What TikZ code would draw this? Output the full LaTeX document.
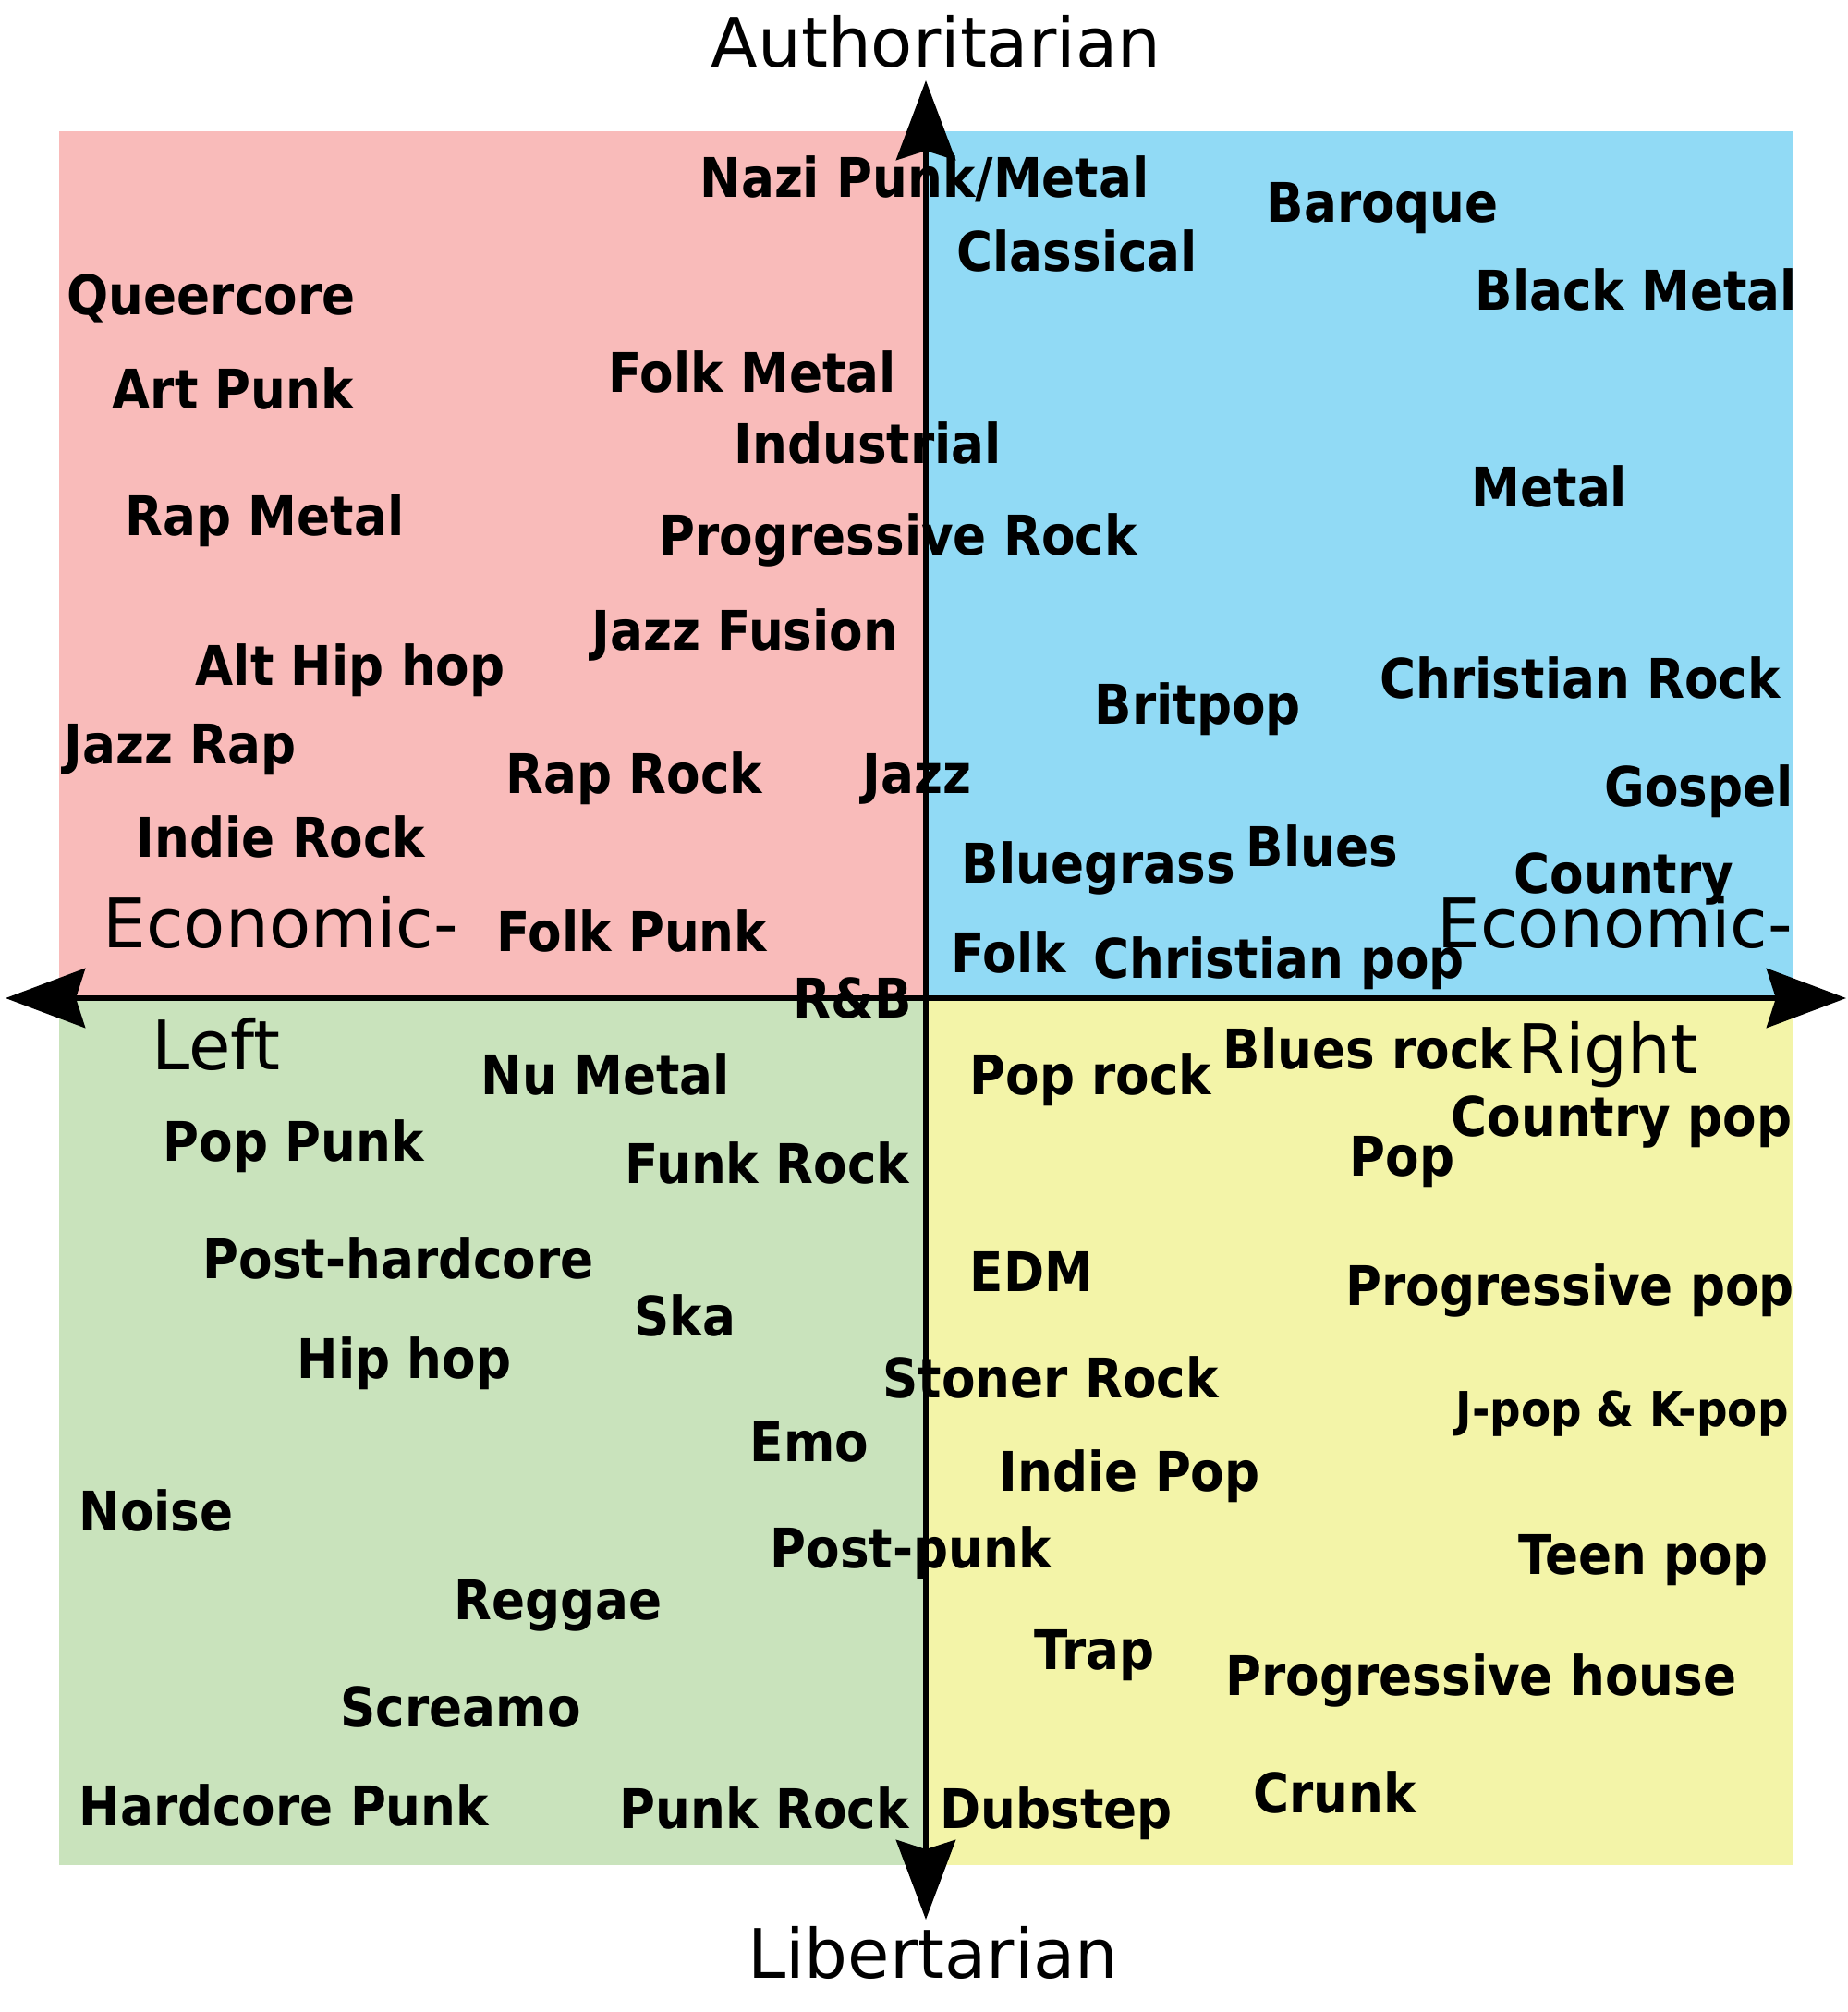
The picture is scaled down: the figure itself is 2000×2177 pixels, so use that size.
\documentclass[tikz,border=0pt]{standalone}
\usepackage{fontspec}
\setmainfont{DejaVu Sans}
\newfontfamily\genrefam{DejaVu Sans Condensed}
\usepackage{xcolor}
\usepackage{tikz}
\usetikzlibrary{arrows.meta}
\definecolor{alcolor}{RGB}{249,187,186}
\definecolor{arcolor}{RGB}{145,218,245}
\definecolor{llcolor}{RGB}{201,227,188}
\definecolor{lrcolor}{RGB}{243,244,168}
\newcommand\genrefont{\genrefam\fontsize{16.8}{20}\selectfont\bfseries}
\newcommand\axisfont{\fontsize{21}{25}\selectfont}

\begin{document}
\begin{tikzpicture}[x=0.01cm,y=-0.01cm,
    genre/.style={anchor=base west,inner sep=0pt,font=\genrefont},
    axislabel/.style={anchor=base west,inner sep=0pt,font=\axisfont},
    axis/.style={line width=1.7pt,
      {Stealth[length=0.86cm,width=0.64cm,inset=0.1cm]}-{Stealth[length=0.86cm,width=0.64cm,inset=0.1cm]}}]
  \useasboundingbox (0,0) rectangle (2000,2177);
  % quadrants
  \fill[alcolor] (64,142) rectangle (1002,1080);
  \fill[arcolor] (1002,142) rectangle (1941,1080);
  \fill[llcolor] (64,1080) rectangle (1002,2018);
  \fill[lrcolor] (1002,1080) rectangle (1941,2018);
  % axes
  \coordinate (wtip) at (6,1080);
  \coordinate (etip) at (1998,1080);
  \coordinate (ntip) at (1002,87);
  \coordinate (stip) at (1002,2077);
  \draw[axis] (wtip) -- (etip);
  \draw[axis] (ntip) -- (stip);
  \node[anchor=base,inner sep=0pt,font=\axisfont] (auth) at (1013,72) {Authoritarian};
  \node[anchor=base,inner sep=0pt,font=\axisfont] (lib) at (1010,2140) {Libertarian};
  \node[axislabel] (econl) at (111,1025) {Economic-};
  \node[axislabel] (left) at (164,1157) {Left};
  \node[axislabel] (econr) at (1555,1025) {Economic-};
  \node[axislabel] (right) at (1642,1161) {Right};
  % authoritarian left
  \foreach \x/\y/\n [count=\i] in {757/192/{Nazi Punk/Metal},72/319/Queercore,121/421/Art Punk,
      658/403/Folk Metal,794/480/Industrial,135/558/Rap Metal,713/579/Progressive Rock,
      640/682/Jazz Fusion,211/720/Alt Hip hop,69/805/Jazz Rap,547/837/Rap Rock,933/837/Jazz,
      147/906/Indie Rock,537/1008/Folk Punk,858/1080/R\&B}
    \node[genre] (al\i) at (\x,\y+21) {\n};
  % authoritarian right
  \foreach \x/\y/\n [count=\i] in {1035/272/Classical,1370/219/Baroque,1596/314/Black Metal,
      1592/527/Metal,1493/734/Christian Rock,1184/762/Britpop,1736/851/Gospel,
      1040/934/Bluegrass,1348/916/Blues,1638/945/Country,1029/1031/Folk,1183/1037/Christian pop}
    \node[genre] (ar\i) at (\x,\y+21) {\n};
  % libertarian left
  \foreach \x/\y/\n [count=\i] in {520/1163/Nu Metal,176/1235/Pop Punk,676/1259/Funk Rock,
      219/1362/Post-hardcore,686/1424/Ska,321/1470/Hip hop,811/1560/Emo,85/1635/Noise,
      491/1731/Reggae,368/1847/Screamo,85/1954/Hardcore Punk,670/1957/Punk Rock}
    \node[genre] (ll\i) at (\x,\y+21) {\n};
  % libertarian right
  \foreach \x/\y/\n [count=\i] in {1323/1135/Blues rock,1049/1163/Pop rock,1570/1208/Country pop,
      1460/1251/Pop,1049/1376/EDM,1456/1391/Progressive pop,955/1491/Stoner Rock,
      1081/1592/Indie Pop,833/1675/Post-punk,1643/1682/Teen pop,1119/1785/Trap,
      1326/1813/Progressive house,1356/1940/Crunk,1017/1957/Dubstep}
    \node[genre] (lr\i) at (\x,\y+21) {\n};
  \node[genre,font=\genrefam\fontsize{14.8}{17}\selectfont\bfseries] (jkpop) at (1575,1543) {J-pop \& K-pop};
\end{tikzpicture}
\end{document}
